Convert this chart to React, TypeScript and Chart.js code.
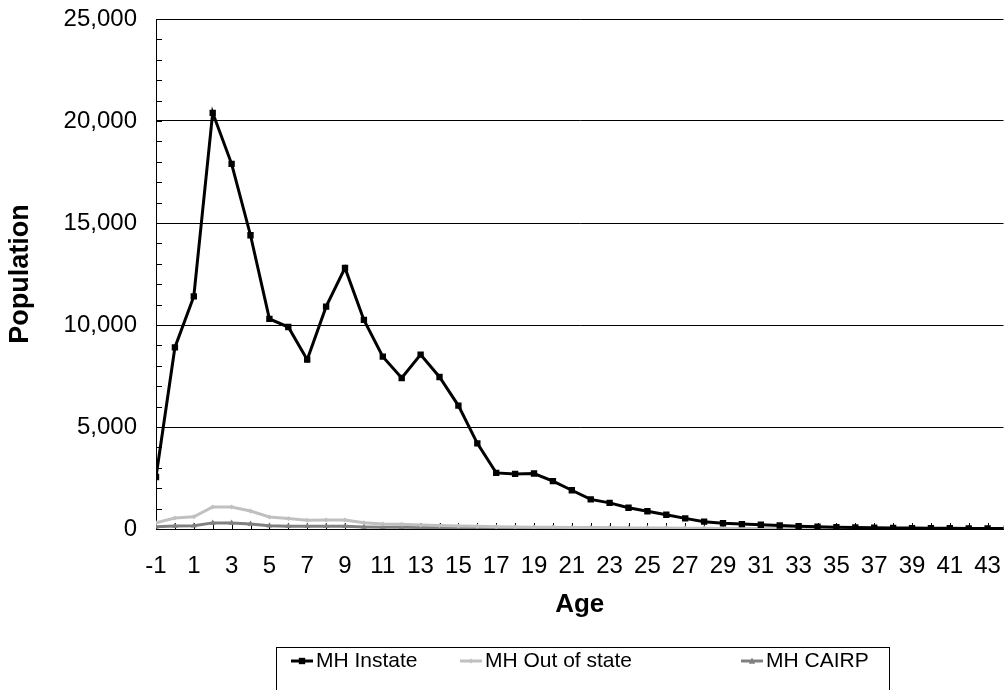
import React, { useEffect, useRef } from "react";
import { Chart, registerables } from "chart.js";

Chart.register(...registerables);

// Age categories (years)
const ages = [
  -1, 0, 1, 2, 3, 4, 5, 6, 7, 8, 9, 10, 11, 12, 13, 14, 15, 16, 17, 18, 19, 20, 21, 22,
  23, 24, 25, 26, 27, 28, 29, 30, 31, 32, 33, 34, 35, 36, 37, 38, 39, 40, 41, 42, 43, 44,
];

// Population by age
const instate = [
  2550, 8900, 11400, 20400, 17900, 14400, 10300, 9900, 8300, 10900, 12800, 10250, 8450,
  7400, 8550, 7450, 6050, 4200, 2750, 2700, 2720, 2350, 1900, 1450, 1280, 1040, 870, 700,
  520, 360, 280, 240, 210, 170, 140, 110, 90, 75, 60, 50, 45, 40, 35, 30, 25, 20,
];
const outOfState = [
  310, 540, 600, 1080, 1080, 880, 590, 520, 425, 440, 440, 310, 250, 230, 200, 170, 150,
  130, 110, 100, 90, 80, 75, 70, 60, 55, 50, 45, 40, 35, 30, 28, 25, 22, 20, 18, 16, 15,
  14, 12, 11, 10, 9, 8, 8, 7,
];
const cairp = [
  110, 150, 160, 300, 300, 250, 160, 140, 130, 130, 130, 100, 90, 80, 75, 70, 65, 60, 55,
  50, 45, 40, 38, 35, 32, 30, 28, 26, 24, 22, 20, 18, 16, 15, 14, 13, 12, 11, 10, 10, 9,
  9, 8, 8, 7, 7,
];

const seriesNames = ["MH Instate", "MH Out of state", "MH CAIRP"];
const seriesColors = ["#000000", "#C0C0C0", "#808080"];
const seriesMarkers = ["rect", "rectRot", "triangle"];
const seriesMarkerSizes = [4.5, 2.5, 3.5];

const yMax = 25000;
const yStep = 5000;
const yMinorStep = 1000;
const xMin = -1;
const xMax = 43.84;

const FONT = "'Liberation Sans', Arial, Helvetica, sans-serif";

// Small inward tick marks along both axes
const minorTicks = {
  id: "minorTicks",
  beforeDatasetsDraw(chart: any) {
    const { ctx, chartArea, scales } = chart;
    const x = scales.x;
    const y = scales.y;
    ctx.save();
    ctx.strokeStyle = "#000";
    ctx.lineWidth = 1;
    ctx.beginPath();
    for (let v = 0; v <= yMax; v += yMinorStep) {
      const py = Math.round(y.getPixelForValue(v)) + 0.5;
      ctx.moveTo(chartArea.left, py);
      ctx.lineTo(chartArea.left + 6, py);
    }
    for (const a of ages) {
      if (a > xMax) continue;
      const px = Math.round(x.getPixelForValue(a)) + 0.5;
      ctx.moveTo(px, chartArea.bottom);
      ctx.lineTo(px, chartArea.bottom - 6);
    }
    ctx.stroke();
    ctx.restore();
  },
};

function drawMarker(ctx: CanvasRenderingContext2D, style: string, cx: number, cy: number, r: number, color: string) {
  ctx.save();
  ctx.fillStyle = color;
  ctx.beginPath();
  if (style === "rect") {
    const s = r * Math.SQRT1_2;
    ctx.rect(cx - s, cy - s, 2 * s, 2 * s);
  } else if (style === "rectRot") {
    ctx.moveTo(cx, cy - r);
    ctx.lineTo(cx + r, cy);
    ctx.lineTo(cx, cy + r);
    ctx.lineTo(cx - r, cy);
    ctx.closePath();
  } else {
    ctx.moveTo(cx, cy - r);
    ctx.lineTo(cx + r * 0.9, cy + r * 0.75);
    ctx.lineTo(cx - r * 0.9, cy + r * 0.75);
    ctx.closePath();
  }
  ctx.fill();
  ctx.restore();
}

// Boxed legend below the axis title, each entry a short line with its marker
const boxedLegend = {
  id: "boxedLegend",
  afterDraw(chart: any) {
    const { ctx } = chart;
    const boxLeft = 276;
    const boxTop = 647;
    const boxRight = 889;
    const textStarts = [316, 485, 766];
    const lineLen = 22;
    const midY = 661;
    ctx.save();
    ctx.strokeStyle = "#000";
    ctx.lineWidth = 1;
    ctx.strokeRect(boxLeft + 0.5, boxTop + 0.5, boxRight - boxLeft, 80);
    ctx.font = `21px ${FONT}`;
    ctx.textBaseline = "middle";
    ctx.textAlign = "left";
    seriesNames.forEach((name, i) => {
      const tx = textStarts[i];
      const lx1 = tx - 3;
      const lx0 = lx1 - lineLen;
      ctx.strokeStyle = seriesColors[i];
      ctx.lineWidth = 3;
      ctx.beginPath();
      ctx.moveTo(lx0, midY);
      ctx.lineTo(lx1, midY);
      ctx.stroke();
      drawMarker(ctx, seriesMarkers[i], (lx0 + lx1) / 2, midY, seriesMarkerSizes[i], seriesColors[i]);
      ctx.fillStyle = "#000";
      ctx.fillText(name, tx, midY);
    });
    ctx.restore();
  },
};

export default function App() {
  const canvasRef = useRef<HTMLCanvasElement | null>(null);

  useEffect(() => {
    document.body.style.margin = "0";
    const canvas = canvasRef.current;
    if (!canvas) return;
    const seriesData = [instate, outOfState, cairp];
    const chart = new Chart(canvas, {
      type: "line",
      data: {
        datasets: seriesNames.map((name, i) => ({
          label: name,
          data: ages.map((a, j) => ({ x: a, y: seriesData[i][j] })),
          borderColor: seriesColors[i],
          backgroundColor: seriesColors[i],
          borderWidth: 3,
          pointStyle: seriesMarkers[i] as any,
          pointRadius: seriesMarkerSizes[i],
          pointBorderWidth: 0,
          pointBackgroundColor: seriesColors[i],
          tension: 0,
        })),
      },
      options: {
        animation: false,
        responsive: false,
        devicePixelRatio: 1,
        layout: { padding: { top: 19, left: 0, right: 0, bottom: 0 } },
        plugins: {
          legend: { display: false },
          tooltip: { enabled: false },
        },
        scales: {
          x: {
            type: "linear",
            min: xMin,
            max: xMax,
            grid: { display: false, drawTicks: false },
            border: { display: true, color: "#000", width: 1 },
            afterBuildTicks: (scale: any) => {
              scale.ticks = ages.filter((a) => a <= xMax).map((a) => ({ value: a }));
            },
            ticks: {
              autoSkip: false,
              maxRotation: 0,
              padding: 23,
              color: "#000",
              font: { family: FONT, size: 24 },
              callback: (v: any) => {
                const n = Number(v);
                if (Number.isInteger(n) && Math.abs(n % 2) === 1) return String(n);
                return "";
              },
            },
            title: {
              display: true,
              text: "Age",
              color: "#000",
              font: { family: FONT, size: 26, weight: "bold" },
              padding: { top: 0, bottom: 70 },
            },
            afterFit: (scale: any) => {
              scale.height = 161;
              scale.paddingLeft = 0;
              scale.paddingRight = 0;
            },
          },
          y: {
            min: 0,
            max: yMax,
            grid: { color: "#000", lineWidth: 1, drawTicks: false },
            border: { display: true, color: "#000", width: 1 },
            ticks: {
              stepSize: yStep,
              padding: 19,
              color: "#000",
              font: { family: FONT, size: 24 },
              callback: (v: any) => Number(v).toLocaleString("en-US"),
            },
            title: {
              display: true,
              text: "Population",
              color: "#000",
              font: { family: FONT, size: 27, weight: "bold" },
              padding: { top: 4, bottom: 0 },
            },
            afterFit: (scale: any) => {
              scale.width = 156;
              scale.paddingTop = 0;
              scale.paddingBottom = 0;
            },
          },
        },
      },
      plugins: [minorTicks, boxedLegend],
    });
    return () => chart.destroy();
  }, []);

  return (
    <div style={{ position: "relative", width: 1008, height: 690, overflow: "hidden", background: "#fff" }}>
      <canvas ref={canvasRef} width={1008} height={690} style={{ display: "block" }} />
    </div>
  );
}
